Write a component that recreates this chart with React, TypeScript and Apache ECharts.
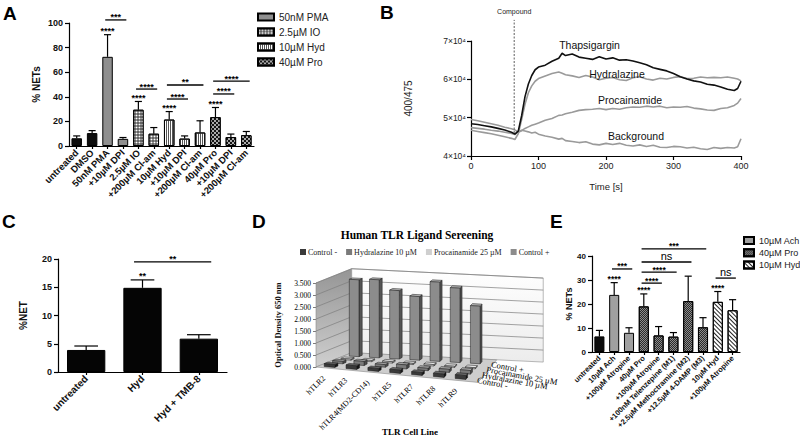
import React, { useEffect, useRef } from 'react';
import * as echarts from 'echarts';

const SANS = '"Liberation Sans", Arial, sans-serif';
const SERIF = '"Liberation Serif", "Times New Roman", serif';

// ---------------- Panel A ----------------
const catsA = ['untreated', 'DMSO', '50nM PMA', '+10µM DPI', '2.5µM IO', '+200µM Cl-am', '10µM Hyd', '+10µM DPI', '+200µM Cl-am', '40µM Pro', '+10µM DPI', '+200µM Cl-am'];
const meanA = [6.3, 10.5, 72.5, 5.8, 29.5, 10, 21.5, 6, 11, 23.5, 7.3, 8.8];
const errTopA = [8.2, 12.5, 90.5, 6.9, 36.2, 15, 28, 8.2, 20.5, 31.3, 9.7, 11.8];
const groupA = [0, 0, 1, 1, 2, 2, 3, 3, 3, 4, 4, 4];
const groupNamesA = ['A control', '50nM PMA', '2.5µM IO', '10µM Hyd', '40µM Pro'];
const starsA = [2, 4, 6, 9];
const bracketsA = [[2, 3, 102.5], [4, 5, 46.3], [6, 8, 49.6], [6, 7, 38.2], [9, 11, 52.8], [9, 10, 42.3]];
const bracketTextA = ['***', '****', '**', '****', '****', '****'];

// ---------------- Panel B ----------------
const timeB = [0, 10, 20, 30, 40, 50, 60, 65, 70, 75, 80, 85, 90, 95, 100, 110, 120, 130, 135, 140, 150, 160, 170, 180, 190, 200, 210, 220, 230, 240, 250, 260, 270, 280, 290, 300, 310, 320, 330, 340, 350, 360, 370, 380, 390, 395, 400];
const thapsigarginB = [48400, 48200, 47900, 47600, 47200, 46800, 46200, 45700, 46500, 50500, 55500, 58800, 61000, 62500, 63200, 63700, 64700, 65500, 66800, 66200, 66600, 65800, 65500, 65200, 65900, 65300, 65600, 65000, 65100, 64800, 64300, 63800, 63000, 62600, 62200, 61500, 60700, 60100, 59600, 59300, 58700, 58500, 58000, 57400, 57100, 57600, 59500];
const hydralazineB = [46700, 46400, 46100, 45800, 45400, 45000, 44600, 44300, 45800, 49500, 53500, 56500, 58300, 59500, 60200, 60900, 61500, 61900, 61600, 61200, 60900, 60500, 61000, 60600, 59900, 60300, 60500, 59900, 59700, 60400, 60700, 60100, 59800, 60300, 60100, 60500, 60700, 60200, 60300, 60600, 60400, 60500, 60400, 60600, 60300, 60100, 59600];
const procainamideB = [49500, 49200, 48800, 48400, 48000, 47500, 47100, 46800, 46200, 46600, 47200, 47600, 48000, 48300, 48600, 49300, 49800, 50600, 50700, 51000, 51400, 51900, 52100, 52200, 52400, 52100, 52400, 52200, 52600, 52800, 52700, 53000, 52800, 53000, 52600, 52800, 52700, 52900, 52500, 52300, 52000, 51900, 52400, 52600, 53200, 53800, 55000];
const backgroundB = [47400, 47200, 47000, 46700, 46500, 46200, 45900, 45600, 46400, 46700, 46500, 46300, 46000, 46200, 45700, 45200, 44900, 44400, 44600, 44000, 43800, 43500, 43700, 43100, 42900, 43300, 43000, 43300, 42800, 42600, 42900, 42500, 42800, 42300, 42200, 42500, 42400, 42100, 42300, 41900, 41700, 42200, 42000, 42200, 42100, 42400, 44500];
const lineNamesB = ['Thapsigargin', 'Hydralazine', 'Procainamide', 'Background'];
const lineLabelAtB = [[175.6, 68960], [216.3, 61390], [235.6, 54610], [244.4, 45220]];
const compoundTimeB = 64;

// ---------------- Panel C ----------------
const catsC = ['untreated', 'Hyd', 'Hyd + TMB-8'];
const meanC = [3.9, 14.9, 5.9];
const errTopC = [4.6, 16.3, 6.6];
const starsC = [1];
const bracketsC = [[1, 2, 19.5]];
const bracketTextC = ['**'];

// ---------------- Panel D ----------------
const catsD = ['hTLR2', 'hTLR3', 'hTLR4(MD2-CD14)', 'hTLR5', 'hTLR7', 'hTLR8', 'hTLR9'];
const rowsD = ['Control -', 'Hydralazine 10 µM', 'Procainamide 25 µM', 'Control +'];
const controlMinusD = [0.12, 0.15, 0.12, 0.14, 0.12, 0.14, 0.16];
const hydralazineD = [0.10, 0.17, 0.11, 0.17, 0.10, 0.13, 0.15];
const procainamideD = [0.05, 0.05, 0.06, 0.05, 0.06, 0.05, 0.05];
const controlPlusD = [3.2, 3.25, 2.85, 2.65, 3.3, 3.1, 2.4];
const gridValuesD = [0.5, 1, 1.5, 2, 2.5, 3, 3.5];

// ---------------- Panel E ----------------
const catsE = ['untreated', '10µM Ach', '+100µM Atropine', '40µM Pro', '+100µM Atropine', '+100nM Telenzepine (M1)', '+2.5µM Methoctramine (M2)', '+12.5µM 4-DAMP (M3)', '10µM Hyd', '+100µM Atropine'];
const meanE = [6.5, 23.8, 8, 19, 6.9, 6.4, 21.2, 10.3, 20.9, 17.4];
const errTopE = [9, 28.9, 10.1, 24.2, 10.6, 8.1, 31.6, 14.3, 25.2, 21.8];
const groupE = [0, 1, 1, 2, 2, 2, 2, 2, 3, 3];
const groupNamesE = ['E control', 'E 10µM Ach', 'E 40µM Pro', 'E 10µM Hyd'];
const starsE = [1, 3, 8];
const bracketsE = [[1, 2, 34.6], [3, 4, 28.7], [3, 5, 33.3], [3, 6, 37.5], [3, 7, 43], [8, 9, 30.8]];
const bracketTextE = ['***', '****', '****', 'ns', '***', 'ns'];

// ---------------- styles ----------------
const border = { borderColor: '#000', borderWidth: 1 };
const styleA: any[] = [
  { color: '#0d0d0d', ...border },
  { color: '#8f8f8f', ...border },
  { color: '#2b2b2b', ...border, decal: { symbol: 'rect', symbolSize: 0.7, symbolKeepAspect: false, dashArrayX: [3, 0], dashArrayY: [3, 0], color: '#ffffff' } },
  { color: '#ffffff', ...border, decal: { symbol: 'rect', symbolSize: 1, symbolKeepAspect: false, dashArrayX: [1, 1], dashArrayY: [4, 0], color: '#555555' } },
  { color: '#151515', ...border, decal: { symbol: 'rect', symbolSize: 0.85, symbolKeepAspect: false, dashArrayX: [[2, 2], [0, 2, 2, 0]], dashArrayY: [2, 0], color: '#ffffff' } },
];
const styleE: any[] = [
  { color: '#0d0d0d', ...border },
  { color: '#a0a0a0', ...border },
  { color: '#8c8c8c', ...border, decal: { symbol: 'rect', symbolSize: 1, symbolKeepAspect: false, dashArrayX: [[1, 1], [0, 1, 1, 0]], dashArrayY: [1, 0], color: '#2a2a2a' } },
  { color: '#ffffff', ...border, decal: { symbol: 'rect', symbolSize: 1, symbolKeepAspect: false, dashArrayX: [4, 0], dashArrayY: [1, 2], rotation: Math.PI / 4, color: '#222222' } },
];
const colorsB = ['#111111', '#9a9a9a', '#9a9a9a', '#9a9a9a'];
const faceD = [
  ['#3a3a3a', '#161616', '#666666'],
  ['#7a7a7a', '#4a4a4a', '#a6a6a6'],
  ['#cfcfcf', '#9c9c9c', '#e6e6e6'],
  ['#8c8c8c', '#555555', '#b3b3b3'],
];

const txt = (text: string, x: number, y: number, font: string, align = 'center', vAlign = 'bottom', fill = '#000', rotation = 0) => ({
  type: 'text', x, y, rotation,
  style: { text, x: 0, y: 0, font, fill, align, verticalAlign: vAlign },
});

const errorSeries = (ai: number, mean: number[], top: number[], capFrac: number) => ({
  type: 'custom', xAxisIndex: ai, yAxisIndex: ai, z: 4, silent: true,
  itemStyle: { color: '#000' },
  data: mean.map((m, i) => [i, m, top[i]]),
  encode: { x: 0, y: 1 },
  renderItem: (params: any, api: any) => {
    const i = api.value(0);
    const p1 = api.coord([i, api.value(1)]);
    const p2 = api.coord([i, api.value(2)]);
    const hw = api.size([1, 0])[0] * capFrac;
    const st = { stroke: '#000', lineWidth: 1.2 };
    return {
      type: 'group', children: [
        { type: 'line', shape: { x1: p1[0], y1: p1[1], x2: p2[0], y2: p2[1] }, style: st },
        { type: 'line', shape: { x1: p2[0] - hw, y1: p2[1], x2: p2[0] + hw, y2: p2[1] }, style: st },
      ],
    };
  },
});

const starSeries = (ai: number, idx: number[], top: number[], label: string, font: string) => ({
  type: 'custom', xAxisIndex: ai, yAxisIndex: ai, z: 5, silent: true,
  itemStyle: { color: '#000' },
  data: idx.map((i) => [i, top[i]]),
  encode: { x: 0, y: 1 },
  renderItem: (params: any, api: any) => {
    const p = api.coord([api.value(0), api.value(1)]);
    return txt(label, p[0], p[1] + 1, font);
  },
});

const bracketSeries = (ai: number, items: number[][], labels: string[], font: string, nsFont: string) => ({
  type: 'custom', xAxisIndex: ai, yAxisIndex: ai, z: 5, silent: true,
  itemStyle: { color: '#000' },
  data: items,
  encode: { x: 0, y: 2 },
  renderItem: (params: any, api: any) => {
    const bw = api.size([1, 0])[0];
    const p1 = api.coord([api.value(0), api.value(2)]);
    const p2 = api.coord([api.value(1), api.value(2)]);
    const x1 = p1[0] - bw * 0.15;
    const x2 = p2[0] + bw * 0.22;
    const lab = labels[params.dataIndex];
    const isNs = lab === 'ns';
    return {
      type: 'group', children: [
        { type: 'line', shape: { x1, y1: p1[1], x2, y2: p1[1] }, style: { stroke: '#000', lineWidth: 1.3 } },
        txt(lab, (x1 + x2) / 2, p1[1] + (isNs ? -1 : 2), isNs ? nsFont : font),
      ],
    };
  },
});

const projD = (L: number, x: number, y: number, q: number) => {
  const t = (x - L) * (1 - 0.025 * q);
  return [L + t + 8.5 * q, y + (0.095 - 0.011 * q) * t - 3.4 * q];
};

const wallsD = {
  type: 'custom', xAxisIndex: 3, yAxisIndex: 3, z: 1, silent: true,
  itemStyle: { color: '#111' },
  data: [[0, 0]],
  encode: { x: 0, y: 1 },
  renderItem: (params: any, api: any) => {
    const cs = params.coordSys;
    const L = cs.x;
    const Rw = cs.x + cs.width + 60;
    const Rf = cs.x + cs.width + 8;
    const y0 = api.coord([0, 0])[1];
    const yT = api.coord([0, gridValuesD[gridValuesD.length - 1]])[1];
    const Q = 4.2;
    const P = (x: number, y: number, q: number) => projD(L, x, y, q);
    const children: any[] = [];
    children.push({
      type: 'polygon', shape: { points: [P(L, y0, 0), P(L, y0, Q), P(L, yT, Q), P(L, yT, 0)] },
      style: { fill: new echarts.graphic.LinearGradient(0, 0, 0, 1, [{ offset: 0, color: '#959595' }, { offset: 1, color: '#cfcfcf' }]), stroke: '#8a8a8a', lineWidth: 0.6 },
    });
    children.push({
      type: 'polygon', shape: { points: [P(L, y0, Q), P(Rw, y0, Q), P(Rw, yT, Q), P(L, yT, Q)] },
      style: { fill: new echarts.graphic.LinearGradient(0, 0, 0, 1, [{ offset: 0, color: '#ffffff' }, { offset: 1, color: '#ececec' }]), stroke: '#8a8a8a', lineWidth: 0.6 },
    });
    children.push({
      type: 'polygon', shape: { points: [P(L, y0, 0), P(Rf, y0, 0), P(Rf, y0, Q), P(L, y0, Q)] },
      style: { fill: '#cdcdcd', stroke: '#8a8a8a', lineWidth: 0.6 },
    });
    gridValuesD.forEach((v) => {
      const yv = api.coord([0, v])[1];
      const a = P(L, yv, 0), b = P(L, yv, Q), c = P(Rw, yv, Q);
      children.push({ type: 'polyline', shape: { points: [a, b, c] }, style: { stroke: '#7c7c7c', lineWidth: 0.7, fill: null } });
    });
    rowsD.forEach((name, r) => {
      const p = P(cs.x + cs.width, y0, r + 0.5);
      children.push(txt(name, p[0] + 5, p[1] + 1, `8.5px ${SERIF}`, 'left', 'middle', '#000', -0.18));
    });
    catsD.forEach((name, c) => {
      const xc = api.coord([c, 0])[0];
      const p = P(xc, y0, 0);
      children.push(txt(name, p[0] - 3, p[1] + 9, `8px ${SERIF}`, 'right', 'middle', '#000', Math.PI / 4));
    });
    return { type: 'group', children };
  },
};

const rowSeriesD = (r: number, values: number[]) => ({
  type: 'custom', name: rowsD[r], xAxisIndex: 3, yAxisIndex: 3, z: 2, silent: true,
  itemStyle: { color: faceD[r][0] },
  data: values.map((v, i) => [i, v]),
  encode: { x: 0, y: 1 },
  renderItem: (params: any, api: any) => {
    const cs = params.coordSys;
    const c = api.value(0);
    const pt = api.coord([c, api.value(1)]);
    const xc = pt[0], yv = pt[1];
    const y0 = api.coord([c, 0])[1];
    const hw = api.size([1, 0])[0] * 0.24;
    const q = r + 0.5, qf = q - 0.2, qb = q + 0.2;
    const P = (x: number, y: number, qq: number) => projD(cs.x, x, y, qq);
    const st = (fill: string) => ({ fill, stroke: '#1a1a1a', lineWidth: 0.5 });
    return {
      type: 'group', children: [
        { type: 'polygon', shape: { points: [P(xc + hw, y0, qf), P(xc + hw, y0, qb), P(xc + hw, yv, qb), P(xc + hw, yv, qf)] }, style: st(faceD[r][1]) },
        { type: 'polygon', shape: { points: [P(xc - hw, yv, qf), P(xc + hw, yv, qf), P(xc + hw, yv, qb), P(xc - hw, yv, qb)] }, style: st(faceD[r][2]) },
        { type: 'polygon', shape: { points: [P(xc - hw, y0, qf), P(xc + hw, y0, qf), P(xc + hw, yv, qf), P(xc - hw, yv, qf)] }, style: st(faceD[r][0]) },
      ],
    };
  },
});

function buildOption(): any {
  const axisLine = { show: true, lineStyle: { color: '#000', width: 1.2 } };
  const tick = { show: true, length: 4, lineStyle: { color: '#000', width: 1.2 } };
  const boldLbl = (size: number) => ({ fontSize: size, fontWeight: 'bold', color: '#111', fontFamily: SANS });
  const catAxis = (gi: number, data: string[], size: number) => ({
    type: 'category', gridIndex: gi, data,
    axisLine, axisTick: { ...tick, length: 3, alignWithLabel: true },
    axisLabel: { ...boldLbl(size), interval: 0, rotate: 45, margin: 5 },
    splitLine: { show: false },
  });
  const valAxis = (gi: number, max: number, interval: number, size: number, name: string, nameGap: number, nameSize: number) => ({
    type: 'value', gridIndex: gi, min: 0, max, interval,
    axisLine, axisTick: tick, axisLabel: { ...boldLbl(size), margin: 6 }, splitLine: { show: false },
    name, nameLocation: 'middle', nameGap, nameTextStyle: { fontWeight: 'bold', fontSize: nameSize, color: '#111', fontFamily: SANS },
  });

  const barSeries = (ai: number, names: string[], groups: number[], mean: number[], styles: any[], width: string) =>
    names.map((name, g) => ({
      type: 'bar', name, xAxisIndex: ai, yAxisIndex: ai, z: 3, silent: true,
      barWidth: width, barGap: '-100%',
      itemStyle: styles[g],
      data: mean.map((v, i) => (groups[i] === g ? v : '-')),
    }));

  const fontBold9 = `bold 9px ${SANS}`;

  const series: any[] = [
    ...barSeries(0, groupNamesA, groupA, meanA, styleA, '68%'),
    errorSeries(0, meanA, errTopA, 0.23),
    starSeries(0, starsA, errTopA, '****', fontBold9),
    bracketSeries(0, bracketsA, bracketTextA, fontBold9, fontBold9),

    ...lineNamesB.map((name, k) => ({
      type: 'line', name, xAxisIndex: 1, yAxisIndex: 1, z: k === 0 ? 4 : 3, silent: true,
      symbol: 'none', showSymbol: false,
      lineStyle: { color: colorsB[k], width: 1.6 },
      itemStyle: { color: colorsB[k] },
      data: timeB.map((t, i) => [t, [thapsigarginB, hydralazineB, procainamideB, backgroundB][k][i]]),
    })),
    {
      type: 'custom', xAxisIndex: 1, yAxisIndex: 1, z: 5, silent: true,
      itemStyle: { color: '#111' },
      data: lineLabelAtB,
      encode: { x: 0, y: 1 },
      renderItem: (params: any, api: any) => {
        const p = api.coord([api.value(0), api.value(1)]);
        return txt(lineNamesB[params.dataIndex], p[0], p[1], `10.5px ${SANS}`, 'center', 'middle', '#111');
      },
    },
    {
      type: 'custom', xAxisIndex: 1, yAxisIndex: 1, z: 5, silent: true,
      itemStyle: { color: '#222' },
      data: [[compoundTimeB, 46000, 75500, 77600]],
      encode: { x: 0, y: 1 },
      renderItem: (params: any, api: any) => {
        const t = api.value(0);
        const a = api.coord([t, api.value(1)]);
        const b = api.coord([t, api.value(2)]);
        const c = api.coord([t, api.value(3)]);
        return {
          type: 'group', children: [
            { type: 'line', shape: { x1: a[0], y1: a[1], x2: b[0], y2: b[1] }, style: { stroke: '#333', lineWidth: 0.8, lineDash: [2, 1.5] } },
            txt('Compound', c[0], c[1], `7px ${SANS}`, 'center', 'middle', '#222'),
          ],
        };
      },
    },

    {
      type: 'bar', name: 'C', xAxisIndex: 2, yAxisIndex: 2, z: 3, silent: true, barWidth: '68%',
      itemStyle: { color: '#050505', ...border }, data: meanC,
    },
    errorSeries(2, meanC, errTopC, 0.21),
    starSeries(2, starsC, errTopC, '**', fontBold9),
    bracketSeries(2, bracketsC, bracketTextC, fontBold9, fontBold9),

    wallsD,
    rowSeriesD(3, controlPlusD),
    rowSeriesD(2, procainamideD),
    rowSeriesD(1, hydralazineD),
    rowSeriesD(0, controlMinusD),

    ...barSeries(4, groupNamesE, groupE, meanE, styleE, '68%'),
    errorSeries(4, meanE, errTopE, 0.24),
    starSeries(4, starsE, errTopE, '****', `bold 8.5px ${SANS}`),
    bracketSeries(4, bracketsE, bracketTextE, `bold 8.5px ${SANS}`, `11px ${SANS}`),
  ];

  const gtext = (t: string, x: number, y: number, font: string, align: string, vAlign: string) => ({
    type: 'text', x, y,
    style: { text: t, x: 0, y: 0, font, fill: '#000', align, verticalAlign: vAlign },
  });

  return {
    animation: false,
    backgroundColor: '#ffffff',
    textStyle: { fontFamily: SANS },
    grid: [
      { left: 69, top: 23, width: 185, height: 123 },
      { left: 471, top: 41, width: 270, height: 115 },
      { left: 58, top: 259, width: 169, height: 113 },
      { left: 316, top: 283, width: 154, height: 84 },
      { left: 592, top: 256, width: 148, height: 96 },
    ].map((g) => ({ ...g, containLabel: false, outerBoundsMode: 'none' })),
    xAxis: [
      catAxis(0, catsA, 9.5),
      {
        type: 'value', gridIndex: 1, min: 0, max: 400, interval: 100,
        axisLine, axisTick: tick, splitLine: { show: false },
        axisLabel: { fontSize: 9, color: '#222', margin: 5, fontFamily: SANS },
        name: 'Time [s]', nameLocation: 'middle', nameGap: 25, nameTextStyle: { fontSize: 9.5, color: '#222', fontFamily: SANS },
      },
      catAxis(2, catsC, 10),
      { type: 'category', gridIndex: 3, data: catsD, axisLine: { show: false }, axisTick: { show: false }, axisLabel: { show: false }, splitLine: { show: false } },
      catAxis(4, catsE, 7.5),
    ],
    yAxis: [
      valAxis(0, 100, 20, 9, '% NETs', 28, 10),
      {
        type: 'value', gridIndex: 1, min: 40000, max: 70000, interval: 10000,
        axisLine, axisTick: tick, splitLine: { show: false },
        axisLabel: { fontSize: 8.5, color: '#222', margin: 5, fontFamily: SANS, formatter: (v: number) => `${v / 10000}×10⁴` },
        name: '400/475', nameLocation: 'middle', nameGap: 58, nameTextStyle: { fontSize: 10, color: '#222', fontFamily: SANS },
      },
      valAxis(2, 20, 5, 9, '%NET', 30, 10),
      {
        type: 'value', gridIndex: 3, min: 0, max: 3.5, interval: 0.5,
        axisLine: { show: true, lineStyle: { color: '#7c7c7c', width: 0.8 } },
        axisTick: { show: true, length: 3, lineStyle: { color: '#7c7c7c' } },
        splitLine: { show: false },
        axisLabel: { fontSize: 7.5, color: '#000', fontFamily: SERIF, margin: 5, formatter: (v: number) => v.toFixed(3) },
        name: 'Optical Density 650 nm', nameLocation: 'middle', nameGap: 34,
        nameTextStyle: { fontSize: 8.5, fontWeight: 'bold', color: '#111', fontFamily: SERIF },
      },
      valAxis(4, 40, 10, 8, '% NETs', 17, 9),
    ],
    legend: [
      {
        data: groupNamesA.slice(1), orient: 'vertical', left: 257, top: 11, padding: 0,
        itemWidth: 16, itemHeight: 7, itemGap: 3, icon: 'rect', selectedMode: false,
        textStyle: { fontSize: 10, lineHeight: 12, color: '#222', fontFamily: SANS },
      },
      {
        data: rowsD, orient: 'horizontal', left: 300, top: 248, padding: 0,
        itemWidth: 6, itemHeight: 6, itemGap: 9, icon: 'rect', selectedMode: false,
        textStyle: { fontSize: 8, color: '#222', fontFamily: SERIF, padding: [0, 0, 0, -3] },
      },
      {
        data: groupNamesE.slice(1), orient: 'vertical', left: 743, top: 235, padding: 0,
        itemWidth: 10, itemHeight: 7, itemGap: 1.3, icon: 'rect', selectedMode: false,
        formatter: (n: string) => n.slice(2),
        textStyle: { fontSize: 9, lineHeight: 11, color: '#222', fontFamily: SANS },
      },
    ],
    graphic: [
      gtext('A', 3, 4, `bold 19px ${SANS}`, 'left', 'top'),
      gtext('B', 380, 3, `bold 19px ${SANS}`, 'left', 'top'),
      gtext('C', 2, 212, `bold 19px ${SANS}`, 'left', 'top'),
      gtext('D', 252, 212, `bold 19px ${SANS}`, 'left', 'top'),
      gtext('E', 550, 212, `bold 19px ${SANS}`, 'left', 'top'),
      gtext('Human TLR Ligand Sereening', 417, 235, `bold 11.5px ${SERIF}`, 'center', 'middle'),
      gtext('TLR Cell Line', 410, 432, `bold 9px ${SERIF}`, 'center', 'middle'),
    ],
    series,
  };
}

export default function App() {
  const ref = useRef<HTMLDivElement>(null);
  useEffect(() => {
    if (!ref.current) return;
    const chart = echarts.init(ref.current, undefined, { renderer: 'svg' });
    chart.setOption(buildOption());
    return () => chart.dispose();
  }, []);
  return <div ref={ref} style={{ position: 'absolute', left: 0, top: 0, width: 800, height: 438 }} />;
}
